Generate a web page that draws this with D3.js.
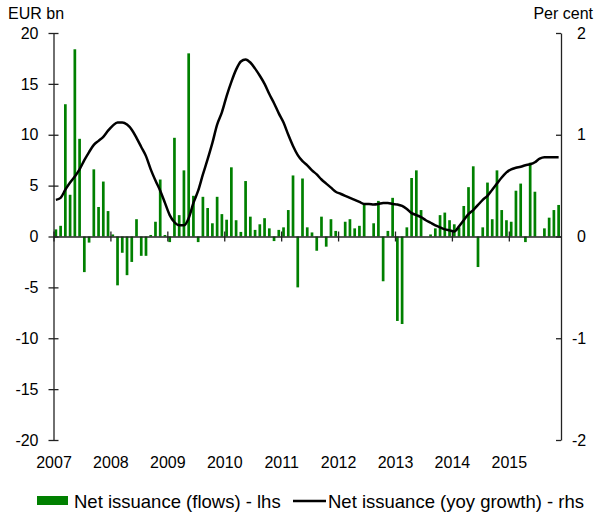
<!DOCTYPE html>
<html lang="en">
<head>
    <meta charset="UTF-8">
    <title>Net issuance</title>
    <script src="https://d3js.org/d3.v7.min.js"></script>
    <style>
        body { margin: 0; background: #fff; }
        text { font-family: "Liberation Sans", Arial, sans-serif; }
    </style>
</head>
<body>
    <svg width="596" height="514"></svg>
    <script>
        // Monthly data, Jan 2007 - Nov 2015
        const years = [2007, 2008, 2009, 2010, 2011, 2012, 2013, 2014, 2015];

        // Net issuance (flows), EUR bn - lhs
        const flows = [
            0.7, 1.05, 13.0, 4.1, 18.4, 9.6, -3.5, -0.6, 6.6, 2.9, 5.4, 2.5,
            0.2, -4.8, -1.6, -3.8, -2.5, 1.7, -1.9, -1.9, 0.15, 1.45, 5.6, 0.15,
            -0.55, 9.7, 2.1, 6.5, 18.0, 4.0, -0.55, 3.9, 2.8, 1.3, 3.9, 2.2,
            1.65, 6.8, 1.6, 0.45, 5.45, 1.95, 0.65, 1.2, 1.8, 0.8, -0.45, 0.65,
            0.9, 2.6, 6.0, -5.0, 5.7, 0.9, 0.4, -1.4, 1.95, -1.0, 1.7, 0.55,
            0, 1.45, 1.7, 0.8, 1.05, 3.2, 0, 1.3, 3.5, -4.4, 0.55, 3.8,
            -8.3, -8.6, 0.9, 5.75, 6.5, 2.6, 0, 0.2, 0.8, 2.1, 2.35, 1.6,
            1.2, 0.9, 3.0, 4.85, 6.9, -3.0, 0.9, 5.3, 1.7, 6.5, 2.6, 1.6,
            1.45, 4.5, 5.2, -0.55, 7.25, 4.4, 0, 0.8, 1.85, 2.6, 3.1
        ];

        // Net issuance (yoy growth), per cent - rhs
        const growth = [
            0.36, 0.38, 0.46, 0.53, 0.59, 0.66, 0.75, 0.83, 0.90, 0.94, 0.98, 1.04,
            1.09, 1.12, 1.12, 1.10, 1.05, 0.97, 0.88, 0.79, 0.66, 0.55, 0.45, 0.33,
            0.21, 0.14, 0.11, 0.11, 0.18, 0.33, 0.45, 0.61, 0.76, 0.92, 1.10, 1.22,
            1.38, 1.52, 1.64, 1.72, 1.74, 1.71, 1.65, 1.58, 1.50, 1.40, 1.31, 1.21,
            1.12, 1.00, 0.89, 0.80, 0.74, 0.70, 0.65, 0.61, 0.56, 0.52, 0.48, 0.44,
            0.42, 0.40, 0.38, 0.36, 0.34, 0.32, 0.32, 0.315, 0.32, 0.33, 0.33, 0.32,
            0.315, 0.30, 0.27, 0.23, 0.21, 0.19, 0.16, 0.135, 0.11, 0.09, 0.07, 0.06,
            0.05, 0.10, 0.16, 0.22, 0.26, 0.31, 0.36, 0.40, 0.46, 0.52, 0.58, 0.63,
            0.66, 0.675, 0.685, 0.70, 0.71, 0.73, 0.765, 0.78, 0.78, 0.78, 0.78
        ];

        const leftTicks = [-20, -15, -10, -5, 0, 5, 10, 15, 20];
        const rightTicks = [-2, -1, 0, 1, 2];

        const svg = d3.select("svg");

        const plotLeft = 53.5, plotRight = 561, plotTop = 33, plotBottom = 440;
        const nMonths = 107;

        const x = d3.scaleLinear().domain([0, nMonths]).range([plotLeft, plotRight]);
        const yL = d3.scaleLinear().domain([-20, 20]).range([plotBottom, plotTop]);
        const yR = d3.scaleLinear().domain([-2, 2]).range([plotBottom, plotTop]);

        const green = "#008000";
        const axisColor = "#222";
        const plain = d => String(d);

        // bars
        const barW = 2.7;
        svg.append("g")
            .selectAll("rect")
            .data(flows)
            .enter()
            .append("rect")
            .attr("x", (d, i) => x(i + 0.5) - barW / 2)
            .attr("width", barW)
            .attr("y", d => Math.min(yL(d), yL(0)))
            .attr("height", d => Math.abs(yL(d) - yL(0)))
            .attr("fill", green);

        // left axis
        const gL = svg.append("g")
            .attr("transform", `translate(${plotLeft},0)`)
            .call(d3.axisLeft(yL).tickValues(leftTicks).tickFormat(plain)
                .tickSize(5).tickSizeOuter(0).tickPadding(10));
        gL.selectAll(".tick line").attr("x1", -5).attr("x2", 5);

        // right axis
        const gR = svg.append("g")
            .attr("transform", `translate(${plotRight},0)`)
            .call(d3.axisRight(yR).tickValues(rightTicks).tickFormat(plain)
                .tickSize(-5).tickSizeOuter(0).tickPadding(15));
        gR.selectAll(".tick text").attr("x", d => d < 0 ? 11 : 16);

        // zero line with year ticks
        const gX = svg.append("g")
            .attr("transform", `translate(0,${yL(0)})`)
            .call(d3.axisBottom(x).tickValues(d3.range(0, 97, 12)).tickSize(5).tickSizeOuter(0).tickFormat(""));
        gX.selectAll(".tick line").attr("y1", -5).attr("y2", 5);

        // year labels
        const gY = svg.append("g")
            .attr("transform", `translate(0,${plotBottom})`)
            .call(d3.axisBottom(x).tickValues(d3.range(0, 97, 12)).tickSize(0).tickPadding(17)
                .tickFormat((d, i) => years[i]));
        gY.select(".domain").remove();

        [gL, gR, gX].forEach(g => {
            g.selectAll(".domain").attr("stroke", axisColor).attr("stroke-width", 1.3);
            g.selectAll(".tick line").attr("stroke", axisColor).attr("stroke-width", 1.3);
        });
        svg.selectAll(".tick text").attr("font-size", 16).attr("fill", "#000")
            .attr("font-family", '"Liberation Sans", Arial, sans-serif');

        // growth line
        const line = d3.line()
            .x((d, i) => x(i + 0.5))
            .y(d => yR(d))
            .curve(d3.curveMonotoneX);
        svg.append("path")
            .datum(growth)
            .attr("d", line)
            .attr("fill", "none")
            .attr("stroke", "#000")
            .attr("stroke-width", 2.5);

        // axis titles
        svg.append("text").attr("x", 8).attr("y", 19).attr("font-size", 16).text("EUR bn");
        svg.append("text").attr("x", 593).attr("y", 19).attr("font-size", 16)
            .attr("text-anchor", "end").text("Per cent");

        // legend
        const lg = svg.append("g").attr("font-size", 18.5);
        lg.append("rect").attr("x", 37).attr("y", 496).attr("width", 31).attr("height", 9).attr("fill", green);
        lg.append("text").attr("x", 74).attr("y", 508).text("Net issuance (flows) - lhs");
        lg.append("line").attr("x1", 293).attr("x2", 326).attr("y1", 501).attr("y2", 501)
            .attr("stroke", "#000").attr("stroke-width", 2.5);
        lg.append("text").attr("x", 328).attr("y", 508).text("Net issuance (yoy growth) - rhs");
    </script>
</body>
</html>
